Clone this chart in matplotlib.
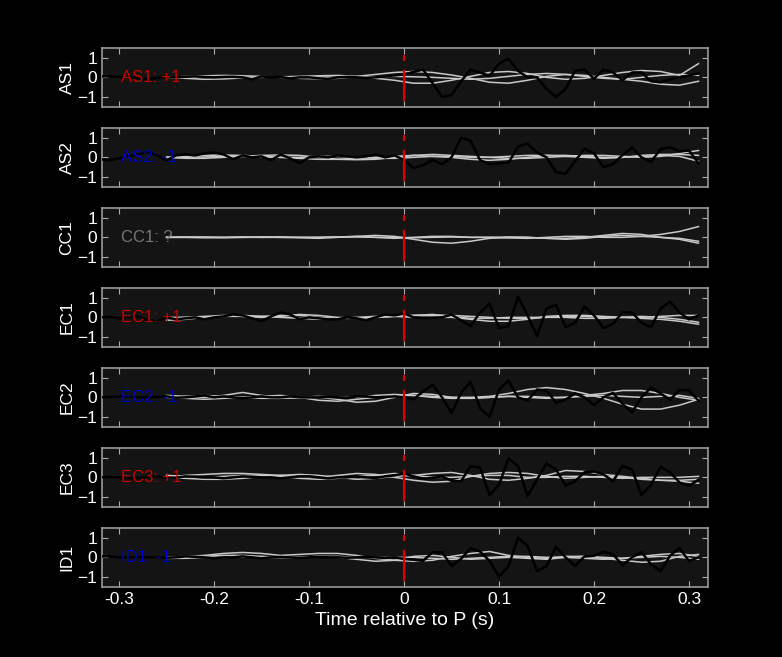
import numpy as np
import matplotlib
matplotlib.use("Agg")
import matplotlib.pyplot as plt

plt.rcParams['font.family'] = ['Liberation Sans', 'DejaVu Sans']

stations = ["AS1", "AS2", "CC1", "EC1", "EC2", "EC3", "ID1"]
polarity = ["+1", "-1", "?", "+1", "-1", "+1", "-1"]
label_colors = ["#cc0000", "#0000cc", "#777777", "#cc0000", "#0000cc", "#cc0000", "#0000cc"]

# black observed traces, sampled every 0.01 s from -0.32 to 0.31
t_obs = np.round(np.arange(-0.32, 0.315, 0.01), 3)
obs = {
 "AS1": [0.05,0.05,0.03,0.0,-0.05,-0.08,-0.03,0.02,0.0,0.03,0.05,0.02,0.0,0.02,0.03,0.0,-0.1,0.05,0.0,0.02,-0.05,0.0,0.0,-0.05,-0.08,0.0,0.02,0.0,-0.03,0.0,0.05,0.1,
         0.15,0.28,0.4,-0.3,-1.0,-0.9,-0.2,0.4,0.25,0.07,0.7,0.95,0.33,0.0,0.0,-0.6,-1.0,-0.6,0.33,0.4,-0.07,0.4,0.25,-0.15,0.25,0.25,-0.2,-0.25,-0.1,0.0,0.1,0.2],
 "AS2": [-0.1,-0.15,-0.05,0.05,0.15,0.3,0.1,-0.15,0.1,0.15,0.1,0.2,0.25,0.15,-0.1,0.1,0.0,0.05,-0.15,0.15,-0.05,-0.3,0.0,0.05,0.0,0.1,0.05,0.0,0.05,0.15,0.0,0.1,
         -0.14,-0.55,-0.4,-0.14,-0.35,0.0,1.0,0.85,-0.14,-0.35,-0.3,-0.27,0.55,0.7,0.25,0.0,-0.75,-0.85,-0.2,0.45,0.2,-0.5,-0.35,0.12,0.5,0.0,-0.23,0.42,0.52,0.3,0.35,-0.3],
 "CC1": None,
 "EC1": [0.0,0.02,-0.05,0.0,0.05,-0.15,-0.2,0.0,-0.1,-0.05,0.0,-0.1,0.0,0.05,0.15,0.1,-0.05,-0.2,0.05,0.25,0.15,-0.1,0.0,-0.05,-0.1,-0.1,0.0,-0.05,-0.15,0.0,0.15,0.1,
         0.2,0.0,-0.03,-0.03,0.0,0.14,-0.15,-0.45,0.25,0.7,-0.55,-0.45,1.05,0.1,-0.95,0.45,0.63,-0.5,-0.28,0.55,0.1,-0.55,-0.33,0.25,0.25,-0.28,-0.5,0.45,0.8,0.25,-0.1,0.1],
 "EC2": [0.0,0.02,0.05,0.05,0.0,0.0,0.02,0.05,-0.02,0.0,0.05,0.1,0.0,0.05,0.0,-0.05,0.0,0.05,0.0,0.0,0.05,0.0,0.0,0.0,0.02,0.0,-0.03,0.05,0.05,0.0,0.02,0.05,
         0.0,-0.1,0.3,0.65,0.0,-0.8,0.23,0.8,-0.55,-1.0,0.4,0.85,0.0,-0.17,0.4,0.35,-0.27,-0.12,0.2,0.0,-0.4,0.0,0.23,-0.33,-0.77,0.0,0.5,0.2,-0.12,0.37,0.35,-0.17],
 "EC3": [0.0,0.02,0.0,-0.05,-0.03,0.0,0.02,0.0,-0.02,0.05,0.03,0.0,0.0,-0.05,0.0,0.05,0.03,0.0,0.0,-0.05,0.0,0.05,0.05,0.0,-0.05,0.0,0.0,0.05,0.0,-0.03,0.05,0.1,
         0.2,0.05,-0.07,-0.03,0.05,-0.18,-0.2,0.58,0.5,-0.9,-0.38,0.97,0.58,-0.95,-0.1,0.7,0.4,-0.42,-0.2,0.26,0.3,0.15,-0.2,0.58,0.4,-0.9,-0.38,0.54,0.26,-0.26,-0.44,-0.12],
 "ID1": [0.05,0.05,0.0,0.0,0.02,0.0,0.0,-0.02,0.0,0.05,0.03,0.0,-0.05,0.0,0.0,0.05,0.0,-0.05,0.0,0.02,0.0,-0.03,0.0,0.02,0.0,0.0,-0.02,0.0,0.03,0.0,-0.03,0.0,
         -0.08,-0.12,-0.18,0.26,0.26,-0.44,-0.08,0.47,0.3,-0.18,-1.0,-0.44,1.0,0.6,-0.7,-0.44,0.53,0.0,-0.44,0.05,0.08,0.3,0.15,-0.4,0.0,0.26,-0.35,-0.7,0.08,0.47,-0.18,0.0],
}

# grey synthetic traces, sampled every 0.02 s from -0.25 to 0.31
t_syn = np.round(np.arange(-0.25, 0.315, 0.02), 3)
syn = {
 "AS1": [[0.0,0.05,0.08,0.1,0.08,0.05,0.0,-0.05,-0.08,-0.05,0.05,0.15,0.25,0.3,0.25,0.12,-0.05,-0.25,-0.3,-0.15,0.05,0.15,0.1,0.0,-0.1,-0.2,-0.35,-0.4,-0.2],
         [0.0,-0.05,-0.1,-0.08,-0.03,0.0,0.03,0.05,0.08,0.1,0.05,-0.05,-0.15,-0.3,-0.3,-0.15,0.05,0.25,0.3,0.2,0.0,-0.1,-0.05,0.1,0.25,0.35,0.3,0.1,0.7],
         [0.0,0.02,0.0,-0.02,0.0,0.02,0.0,0.0,0.02,0.0,0.0,0.03,0.05,0.03,0.0,-0.05,-0.1,-0.05,0.05,0.15,0.2,0.15,0.05,-0.05,-0.1,0.0,0.1,0.15,0.1]],
 "AS2": [[0.0,0.05,0.1,0.12,0.1,0.05,0.0,-0.05,-0.1,-0.1,-0.05,0.0,0.05,0.1,0.15,0.1,0.05,0.0,-0.05,-0.05,0.0,0.05,0.1,0.1,0.05,0.0,0.05,0.2,0.35],
         [0.0,-0.05,-0.05,0.0,0.05,0.1,0.12,0.1,0.0,-0.1,-0.12,-0.1,0.0,0.1,0.05,0.0,-0.1,-0.15,-0.1,0.0,0.1,0.1,0.05,0.0,0.0,0.05,0.1,0.05,-0.2],
         [0.0,0.0,0.02,0.05,0.05,0.02,0.0,0.0,0.05,0.05,0.0,-0.05,-0.05,0.0,0.05,0.05,0.0,0.0,0.05,0.1,0.1,0.05,0.0,-0.05,0.0,0.1,0.15,0.15,0.1]],
 "CC1": [[0.0,0.02,0.02,0.0,0.0,0.02,0.0,-0.02,-0.05,0.0,0.05,0.1,0.05,-0.1,-0.25,-0.3,-0.2,-0.05,0.0,0.0,-0.05,-0.1,-0.05,0.05,0.1,0.05,0.0,-0.05,-0.2],
         [0.0,0.0,-0.02,-0.02,0.0,0.0,0.02,0.0,0.0,0.02,0.05,0.0,-0.05,0.0,0.05,0.05,0.0,0.0,0.02,0.0,-0.05,-0.05,0.0,0.1,0.2,0.15,0.0,-0.1,-0.3],
         [0.0,0.0,0.0,0.0,0.02,0.0,0.0,0.0,0.0,0.02,0.02,0.0,0.0,-0.02,0.0,0.02,0.0,0.0,-0.03,-0.05,0.0,0.05,0.05,0.0,0.0,0.05,0.15,0.3,0.55]],
 "EC1": [[-0.15,-0.1,0.0,0.05,0.05,0.05,0.1,0.1,0.0,-0.05,-0.05,0.0,0.05,0.1,0.15,0.05,-0.05,-0.05,0.0,0.0,0.0,0.05,0.05,0.0,0.0,0.0,0.05,0.1,0.1],
         [-0.05,0.0,0.02,0.05,0.1,0.05,0.0,-0.05,-0.1,-0.05,0.0,0.05,0.05,0.0,0.0,0.0,-0.1,-0.2,-0.2,-0.1,0.05,0.1,0.1,0.05,0.0,-0.05,-0.1,-0.2,-0.35],
         [0.0,0.0,0.05,0.1,0.05,0.0,0.05,0.15,0.1,0.0,-0.05,0.0,0.05,0.1,0.1,0.1,0.05,0.0,-0.05,-0.05,0.0,0.0,-0.05,-0.05,0.0,0.05,0.0,-0.1,-0.25]],
 "EC2": [[0.0,0.05,0.1,0.05,0.0,-0.05,-0.05,0.0,0.05,0.0,0.0,0.1,0.15,0.1,0.05,0.0,0.0,0.05,0.2,0.4,0.5,0.4,0.2,-0.05,-0.35,-0.6,-0.6,-0.4,-0.1],
         [0.1,0.05,0.0,0.1,0.25,0.1,0.0,-0.05,0.0,-0.1,-0.25,-0.2,0.0,0.2,0.15,0.0,-0.05,0.0,0.05,0.05,0.0,0.0,0.1,0.2,0.35,0.35,0.2,0.0,-0.15],
         [0.0,-0.05,-0.1,-0.05,0.0,0.05,0.1,0.0,-0.15,-0.2,-0.1,0.0,0.1,0.1,0.0,-0.05,-0.05,0.0,0.05,0.0,-0.05,0.0,0.05,0.1,0.05,0.0,0.05,0.1,-0.05]],
 "EC3": [[0.0,0.1,0.15,0.2,0.2,0.15,0.1,0.05,0.0,0.1,0.2,0.15,0.0,-0.15,-0.25,-0.2,0.05,0.2,0.25,0.2,0.05,-0.05,0.0,0.05,0.0,-0.1,-0.15,-0.15,-0.1],
         [0.0,-0.05,-0.1,-0.1,-0.05,0.05,0.1,0.15,0.1,0.0,-0.1,-0.05,0.05,0.1,0.2,0.25,0.1,-0.1,-0.15,-0.05,0.1,0.35,0.3,0.15,0.05,-0.05,-0.15,-0.2,-0.3],
         [0.1,0.05,0.0,0.05,0.1,0.1,0.05,-0.05,-0.1,-0.05,0.05,0.1,0.2,0.1,0.0,0.0,0.05,0.1,0.1,0.0,0.0,0.05,0.05,0.0,-0.05,0.0,0.0,0.0,0.05]],
 "ID1": [[0.0,0.05,0.1,0.2,0.25,0.2,0.1,0.15,0.2,0.2,0.1,-0.05,-0.15,-0.2,-0.15,0.05,0.2,0.3,0.1,0.0,-0.05,0.05,0.05,-0.05,-0.15,-0.25,-0.2,0.05,0.15],
         [0.0,0.0,0.05,0.1,0.1,0.05,0.0,0.0,0.05,0.0,-0.1,-0.2,-0.15,0.05,0.1,0.0,-0.1,-0.05,0.0,-0.05,-0.1,0.0,0.05,0.0,-0.05,0.05,0.15,0.2,0.05],
         [-0.05,-0.05,0.0,0.0,0.02,0.0,-0.02,0.0,0.05,0.05,0.0,0.0,0.0,0.0,-0.05,-0.1,-0.05,0.0,0.05,0.05,0.0,0.0,-0.05,-0.1,-0.05,0.0,0.05,0.0,-0.1]],
}

fig = plt.figure(figsize=(7.82, 6.57), dpi=100, facecolor="black")
left, width = 102/782, 606/782
for i, st in enumerate(stations):
    top = 48 + 80*i
    ax = fig.add_axes([left, 1 - (top + 58.7)/657, width, 58.7/657])
    ax.set_facecolor("#141414")
    for s in syn[st]:
        ax.plot(t_syn, s, color="#c8c8c8", lw=1.1, zorder=2)
    if obs[st] is not None:
        ax.plot(t_obs, obs[st], color="black", lw=1.8, zorder=3)
    ax.axvline(0, ymin=0.1, ymax=0.88, color="#dd0000", lw=1.6, ls=(0, (14, 4)), zorder=4)
    ax.text(-0.298, 0, f"{st}: {polarity[i]}", color=label_colors[i], fontsize=12,
            ha="left", va="center", zorder=5)
    ax.set_xlim(-0.318, 0.32)
    ax.set_ylim(-1.5, 1.5)
    ax.set_yticks([-1, 0, 1])
    ax.set_xticks([-0.3, -0.2, -0.1, 0, 0.1, 0.2, 0.3])
    ax.tick_params(direction="in", colors="#aaaaaa", labelcolor="white",
                   labelsize=12.5, top=True, right=True, length=4)
    if i < len(stations) - 1:
        ax.set_xticklabels([])
    else:
        ax.set_xticklabels(["-0.3", "-0.2", "-0.1", "0", "0.1", "0.2", "0.3"])
        ax.set_xlabel("Time relative to P (s)", color="white", fontsize=14)
    ax.set_ylabel(st, color="white", fontsize=12.5, labelpad=2)
    for sp in ax.spines.values():
        sp.set_color("#999999")
        sp.set_linewidth(1.2)

fig.savefig("out.png", dpi=100, facecolor="black")
